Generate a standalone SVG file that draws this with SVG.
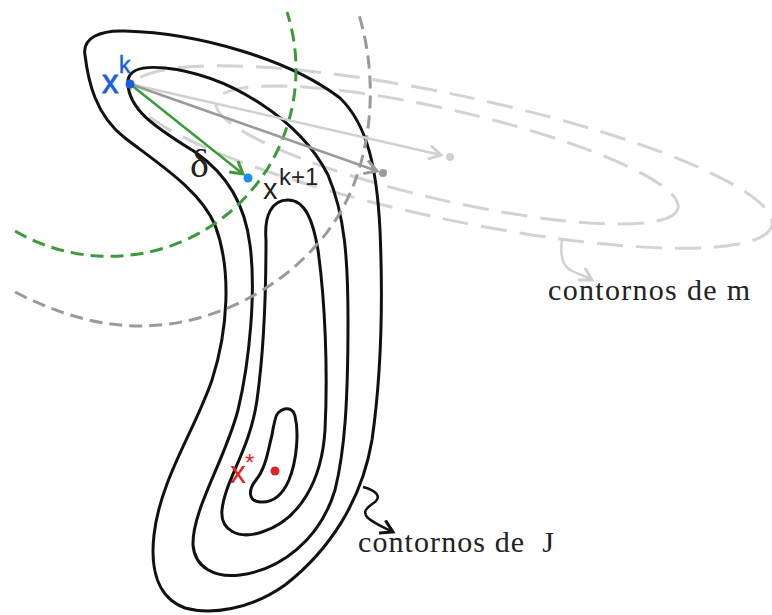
<svg xmlns="http://www.w3.org/2000/svg" width="772" height="615" viewBox="0 0 772 615">
<style>
.cJ{fill:none;stroke:#111;stroke-width:3}
.mc{fill:none;stroke:#d3d3d3;stroke-width:3;stroke-dasharray:26 13}
.lbl{font-family:"Liberation Serif",serif;fill:#222}
.sans{font-family:"Liberation Sans",Arial,sans-serif}
</style>
<defs>
<marker id="ahG" markerUnits="userSpaceOnUse" markerWidth="20" markerHeight="20" refX="13" refY="8" orient="auto"><path d="M1,1 L13,8 L1,15" fill="none" stroke="#3c9a3c" stroke-width="3"/></marker>
<marker id="ahD" markerUnits="userSpaceOnUse" markerWidth="20" markerHeight="20" refX="13" refY="8" orient="auto"><path d="M1,1 L13,8 L1,15" fill="none" stroke="#9a9a9a" stroke-width="3"/></marker>
<marker id="ahL" markerUnits="userSpaceOnUse" markerWidth="20" markerHeight="20" refX="13" refY="8" orient="auto"><path d="M1,1 L13,8 L1,15" fill="none" stroke="#d0d0d0" stroke-width="3"/></marker>
<marker id="ahK" markerUnits="userSpaceOnUse" markerWidth="20" markerHeight="20" refX="13" refY="8" orient="auto"><path d="M1,1 L13,8 L1,15" fill="none" stroke="#111" stroke-width="3"/></marker>
</defs>
<rect width="772" height="615" fill="#fff"/>
<g id="m-contours">
<ellipse class="mc" cx="447" cy="155" rx="237" ry="45" transform="rotate(13 447 155)"/>
<ellipse class="mc" cx="451" cy="157" rx="328" ry="62" transform="rotate(12 451 157)"/>
</g>
<g id="J-contours">
<path id="c1" class="cJ" d="M85,55 C82,38 100,30 125,31 C200,33 290,60 340,98 C368,125 377,170 380,230 C383,300 382,370 372,440 C362,500 330,550 285,585 C250,610 210,615 185,608 C158,598 150,570 154,535 C160,480 195,430 212,380 C228,330 232,270 215,225 C200,190 160,165 125,138 C95,115 88,80 85,55 Z"/>
<path id="c2" class="cJ" d="M128,80 C130,68 145,66 165,68 C230,75 300,120 328,175 C345,215 348,260 348,320 C348,400 345,450 335,490 C320,540 280,570 240,575 C215,578 195,568 193,545 C192,510 225,460 238,410 C250,360 256,290 250,245 C245,205 228,175 195,152 C160,130 126,110 128,80 Z"/>
<path id="c3" class="cJ" d="M266,240 C264,215 272,200 288,200 C305,200 313,220 318,250 C325,300 328,370 325,430 C322,480 300,520 262,532 C238,540 220,530 222,510 C225,480 250,450 257,400 C264,350 266,290 266,240 Z"/>
<path id="c4" class="cJ" d="M275,420 C277,408 292,404 295,416 C299,432 297,460 289,480 C282,496 272,503 260,502 C248,501 248,490 256,480 C266,468 268,450 272,435 C273,428 274,424 275,420 Z"/>
</g>
<g id="trust-regions">
<path id="green-circle" d="M15,231 A187,187 0 0 0 287,12" fill="none" stroke="#3c9a3c" stroke-width="3" stroke-dasharray="13 7"/>
<path id="gray-circle" d="M15,292 C60,315 100,326 140,326 C220,326 300,280 340,213 C365,170 372,120 370,80 C369,55 364,30 358,12" fill="none" stroke="#9a9a9a" stroke-width="3" stroke-dasharray="13 7"/>
</g>
<g id="connectors">
<line x1="130" y1="84" x2="441" y2="155" stroke="#d0d0d0" stroke-width="2.5" marker-end="url(#ahL)"/>
<line x1="130" y1="84" x2="377" y2="171" stroke="#9a9a9a" stroke-width="2.5" marker-end="url(#ahD)"/>
<line x1="130" y1="84" x2="243" y2="174" stroke="#3c9a3c" stroke-width="2.5" marker-end="url(#ahG)"/>
<path d="M562,240 C560,255 562,265 570,270 C578,274 585,276 592,280" fill="none" stroke="#d0d0d0" stroke-width="2.5" marker-end="url(#ahL)"/>
<path d="M363,487 C375,490 382,496 375,502 C366,508 362,512 368,518 C375,524 385,528 393,532" fill="none" stroke="#111" stroke-width="2.5" marker-end="url(#ahK)"/>
</g>
<g id="points">
<circle cx="450" cy="157" r="4" fill="#d0d0d0"/>
<circle cx="383" cy="173" r="4" fill="#9a9a9a"/>
<circle cx="130" cy="84" r="4.5" fill="#1a5fe0"/>
<circle cx="248" cy="178" r="4.5" fill="#1a8fe8"/>
<circle cx="275" cy="471" r="4.5" fill="#e02424"/>
</g>
<g id="labels">
<text class="sans" x="102" y="93" font-size="33" fill="#1a5fe0" stroke="#1a5fe0" stroke-width="0.8">x</text>
<text class="sans" x="119" y="73" font-size="23" fill="#1a5fe0" stroke="#1a5fe0" stroke-width="0.5">k</text>
<text class="lbl" x="190" y="177" font-size="40">δ</text>
<text class="sans" x="263" y="199" font-size="29" fill="#222">x</text>
<text class="sans" x="279" y="185" font-size="24" fill="#222">k+1</text>
<text class="sans" x="230" y="483" font-size="32" fill="#e02424">x</text>
<text class="sans" x="245" y="471" font-size="24" fill="#e02424">*</text>
<text class="lbl" x="548" y="300" font-size="30" textLength="202">contornos de m</text>
<text class="lbl" x="358" y="552" font-size="30" xml:space="preserve" textLength="196">contornos de  J</text>
</g>
</svg>
